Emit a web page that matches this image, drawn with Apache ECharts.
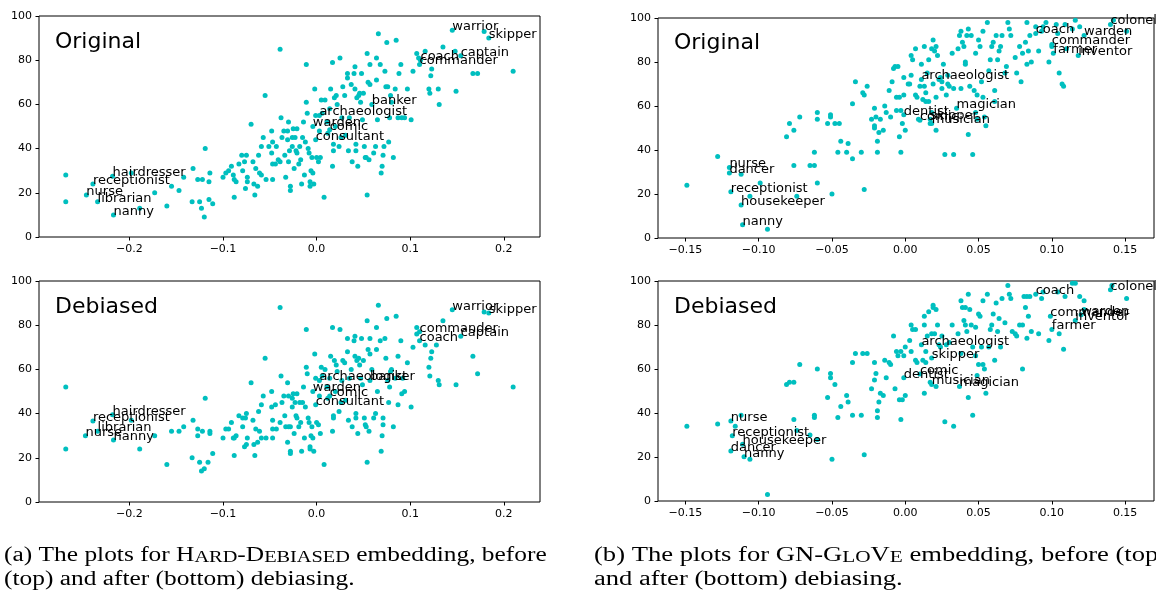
<!DOCTYPE html>
<html><head><meta charset="utf-8">
<script src="https://cdn.jsdelivr.net/npm/echarts@6/dist/echarts.min.js"></script>
<style>html,body{margin:0;padding:0;background:#fff}#c{width:1156px;height:592px}</style>
</head><body><div id="c"></div>
<script>
// ---------- tick labels ----------
const yTicks = [0, 20, 40, 60, 80, 100];
const hdTicks = [-0.2, -0.1, 0.0, 0.1, 0.2];
const gnTicks = [-0.15, -0.10, -0.05, 0.00, 0.05, 0.10, 0.15];
const panelTitles = ['Original', 'Original', 'Debiased', 'Debiased'];

// ---------- (a) HARD-DEBIASED, original ----------
const hdOrigPts = [[-0.268,28],[-0.268,16],[-0.189,13],[-0.198,29],[-0.173,20],[-0.160,14],[-0.155,23],[-0.147,21],[-0.142,27],[-0.132,31],[-0.133,16],[-0.127,26],[-0.125,16],[-0.123,13],[-0.122,26],[-0.120,9],[-0.119,40],[-0.115,25],[-0.115,17],[-0.114,29],[-0.111,15],[-0.100,27],[-0.097,29],[-0.094,30],[-0.091,32],[-0.089,28],[-0.088,26],[-0.088,18],[-0.086,25],[-0.083,33],[-0.080,37],[-0.079,30],[-0.077,34],[-0.076,22],[-0.075,37],[-0.074,25],[-0.074,27],[-0.070,51],[-0.068,34],[-0.067,24],[-0.066,19],[-0.065,31],[-0.063,23],[-0.062,37],[-0.061,29],[-0.059,28],[-0.059,41],[-0.057,45],[-0.055,64],[-0.054,26],[-0.051,41],[-0.048,48],[-0.048,38],[-0.047,43],[-0.047,33],[-0.047,26],[-0.044,33],[-0.043,41],[-0.041,35],[-0.039,85],[-0.039,34],[-0.038,54],[-0.037,45],[-0.035,48],[-0.034,37],[-0.033,27],[-0.031,44],[-0.031,48],[-0.030,52],[-0.030,34],[-0.029,39],[-0.028,23],[-0.028,21],[-0.026,45],[-0.026,41],[-0.025,49],[-0.024,31],[-0.023,45],[-0.022,39],[-0.021,38],[-0.021,49],[-0.019,33],[-0.018,41],[-0.017,35],[-0.016,24],[-0.015,45],[-0.014,52],[-0.013,28],[-0.012,43],[-0.011,78],[-0.011,61],[-0.010,56],[-0.009,40],[-0.008,38],[-0.007,23],[-0.007,25],[-0.006,30],[-0.005,36],[-0.004,29],[-0.003,24],[-0.002,67],[-0.001,55],[0.000,36],[0.002,34],[0.003,48],[0.004,36],[0.005,62],[0.006,56],[0.008,18],[0.009,62],[0.011,52],[0.012,47],[0.014,58],[0.015,67],[0.017,79],[0.017,32],[0.018,39],[0.018,42],[0.019,63],[0.020,50],[0.021,64],[0.022,60],[0.024,41],[0.025,81],[0.026,45],[0.027,54],[0.028,68],[0.030,64],[0.031,46],[0.033,74],[0.033,72],[0.034,39],[0.035,54],[0.037,69],[0.038,34],[0.040,74],[0.041,77],[0.041,67],[0.042,42],[0.042,39],[0.043,63],[0.044,32],[0.045,64],[0.046,65],[0.047,61],[0.048,74],[0.049,53],[0.050,65],[0.051,41],[0.052,36],[0.053,36],[0.054,83],[0.054,19],[0.055,70],[0.056,35],[0.057,69],[0.057,78],[0.061,38],[0.063,41],[0.064,71],[0.064,81],[0.065,53],[0.066,92],[0.068,78],[0.069,29],[0.070,32],[0.071,37],[0.072,41],[0.073,75],[0.074,68],[0.075,88],[0.076,68],[0.077,43],[0.078,54],[0.079,64],[0.080,61],[0.082,36],[0.084,67],[0.085,89],[0.087,54],[0.088,74],[0.090,78],[0.091,54],[0.094,54],[0.097,67],[0.101,53],[0.103,75],[0.107,83],[0.109,81],[0.116,84],[0.120,67],[0.121,65],[0.122,73],[0.123,76],[0.130,67],[0.131,60],[0.135,86],[0.148,84],[0.149,66],[0.167,74],[0.172,74],[0.179,93],[0.210,75]];
const hdOrigWords = ['warrior','skipper','captain','coach','commander','banker','archaeologist','warden','comic','consultant','hairdresser','receptionist','nurse','librarian','nanny'];
const hdOrigWordPos = [[0.145,93.5],[0.184,90],[0.154,82],[0.111,80],[0.110,78],[0.059,60],[0.003,55],[-0.004,50],[0.014,48.5],[-0.001,44],[-0.218,27.5],[-0.239,24],[-0.246,19],[-0.234,16],[-0.217,10]];

// ---------- (a) HARD-DEBIASED, debiased ----------
const hdDebPts = [[-0.268,52],[-0.268,24],[-0.198,37],[-0.189,24],[-0.173,30],[-0.160,17],[-0.155,32],[-0.147,32],[-0.142,34],[-0.132,37],[-0.133,20],[-0.127,33],[-0.127,30],[-0.125,18],[-0.123,14],[-0.122,32],[-0.120,15],[-0.119,47],[-0.116,18],[-0.114,32],[-0.114,31],[-0.111,22],[-0.100,29],[-0.097,33],[-0.094,33],[-0.091,36],[-0.089,29],[-0.088,21],[-0.088,29],[-0.086,30],[-0.083,39],[-0.079,38],[-0.079,34],[-0.077,25],[-0.076,38],[-0.075,40],[-0.075,26],[-0.074,29],[-0.070,54],[-0.068,37],[-0.067,26],[-0.066,21],[-0.065,33],[-0.063,27],[-0.062,41],[-0.061,32],[-0.059,29],[-0.059,44],[-0.057,48],[-0.055,65],[-0.054,29],[-0.048,50],[-0.048,43],[-0.047,37],[-0.047,33],[-0.047,29],[-0.044,44],[-0.043,33],[-0.039,88],[-0.039,36],[-0.038,57],[-0.037,45],[-0.035,48],[-0.034,39],[-0.033,34],[-0.031,27],[-0.031,54],[-0.030,48],[-0.030,34],[-0.028,34],[-0.028,23],[-0.028,22],[-0.026,47],[-0.026,43],[-0.025,49],[-0.024,31],[-0.023,45],[-0.022,39],[-0.021,38],[-0.021,49],[-0.019,34],[-0.018,45],[-0.017,36],[-0.016,23],[-0.015,45],[-0.014,52],[-0.013,29],[-0.012,43],[-0.011,78],[-0.011,61],[-0.010,58],[-0.009,38],[-0.008,36],[-0.007,25],[-0.007,24],[-0.006,30],[-0.005,34],[-0.004,29],[-0.003,23],[-0.002,67],[-0.001,56],[0.000,36],[0.002,35],[0.003,48],[0.004,31],[0.005,61],[0.006,57],[0.008,17],[0.009,60],[0.011,52],[0.012,47],[0.014,56],[0.015,66],[0.017,79],[0.017,32],[0.018,39],[0.018,38],[0.019,64],[0.020,50],[0.021,62],[0.022,59],[0.024,41],[0.025,78],[0.026,45],[0.027,55],[0.028,64],[0.030,63],[0.031,46],[0.033,74],[0.033,68],[0.034,37],[0.035,56],[0.037,60],[0.038,34],[0.040,73],[0.041,75],[0.041,66],[0.042,40],[0.042,38],[0.043,64],[0.044,31],[0.045,65],[0.046,62],[0.047,56],[0.048,74],[0.049,53],[0.050,64],[0.051,38],[0.052,35],[0.053,34],[0.054,82],[0.054,18],[0.055,69],[0.056,32],[0.057,67],[0.057,74],[0.059,60],[0.061,38],[0.063,40],[0.064,69],[0.064,79],[0.065,50],[0.066,89],[0.068,73],[0.069,23],[0.070,30],[0.071,35],[0.071,38],[0.073,74],[0.074,65],[0.075,83],[0.076,55],[0.077,45],[0.078,52],[0.079,59],[0.080,60],[0.082,34],[0.084,56],[0.085,84],[0.087,66],[0.087,44],[0.090,73],[0.091,49],[0.092,56],[0.094,50],[0.097,63],[0.101,43],[0.103,70],[0.107,79],[0.107,76],[0.116,71],[0.120,61],[0.121,57],[0.122,65],[0.123,68],[0.128,71],[0.130,55],[0.131,53],[0.135,82],[0.149,53],[0.167,66],[0.172,58],[0.179,86],[0.210,52]];
const hdDebWords = ['warrior','skipper','commander','captain','coach','archaeologist','banker','warden','comic','consultant','hairdresser','receptionist','librarian','nurse','nanny'];
const hdDebWordPos = [[0.145,87],[0.184,85.5],[0.110,77],[0.154,75],[0.110,73],[0.003,55],[0.057,55],[-0.004,50],[0.014,48],[-0.001,44],[-0.218,39.5],[-0.239,36.7],[-0.234,32],[-0.247,30],[-0.217,28]];

// ---------- (b) GN-GloVe, original ----------
const gnOrigPts = [[-0.149,24],[-0.128,37],[-0.112,29],[-0.106,19],[-0.099,25],[-0.094,4],[-0.081,46],[-0.079,52],[-0.076,49],[-0.076,33],[-0.074,19],[-0.072,55],[-0.065,33],[-0.062,33],[-0.062,39],[-0.060,57],[-0.060,54],[-0.060,25],[-0.053,52],[-0.051,55],[-0.051,56],[-0.050,20],[-0.048,52],[-0.046,39],[-0.045,52],[-0.044,44],[-0.040,39],[-0.039,43],[-0.036,61],[-0.036,36],[-0.034,71],[-0.030,39],[-0.029,66],[-0.028,65],[-0.028,22],[-0.026,69],[-0.023,54],[-0.021,59],[-0.021,51],[-0.021,50],[-0.020,55],[-0.019,39],[-0.019,44],[-0.018,48],[-0.017,54],[-0.015,49],[-0.014,60],[-0.013,57],[-0.011,67],[-0.010,55],[-0.009,71],[-0.008,77],[-0.007,78],[-0.006,64],[-0.006,58],[-0.005,78],[-0.004,64],[-0.004,46],[-0.003,58],[-0.003,39],[-0.002,52],[-0.001,65],[-0.001,73],[0.000,49],[0.002,70],[0.003,70],[0.004,83],[0.005,81],[0.004,74],[0.007,86],[0.007,65],[0.008,64],[0.009,54],[0.010,69],[0.011,79],[0.012,63],[0.013,87],[0.013,69],[0.014,62],[0.014,66],[0.015,75],[0.016,81],[0.016,62],[0.017,52],[0.018,86],[0.018,57],[0.019,90],[0.019,70],[0.020,85],[0.021,64],[0.021,49],[0.021,87],[0.022,83],[0.023,72],[0.024,73],[0.025,71],[0.025,68],[0.026,79],[0.027,38],[0.028,65],[0.029,74],[0.029,70],[0.030,69],[0.032,84],[0.033,68],[0.033,38],[0.036,86],[0.037,92],[0.038,68],[0.038,94],[0.039,89],[0.040,87],[0.041,80],[0.041,79],[0.042,92],[0.043,47],[0.043,95],[0.044,69],[0.045,92],[0.046,38],[0.047,67],[0.048,57],[0.048,84],[0.049,54],[0.049,65],[0.050,90],[0.051,87],[0.052,71],[0.053,94],[0.053,64],[0.054,55],[0.055,51],[0.056,98],[0.057,76],[0.058,81],[0.059,87],[0.060,89],[0.061,67],[0.061,62],[0.062,92],[0.063,81],[0.064,85],[0.065,87],[0.066,92],[0.068,75],[0.069,78],[0.070,98],[0.071,95],[0.072,92],[0.075,82],[0.076,75],[0.078,87],[0.079,71],[0.080,84],[0.082,89],[0.083,79],[0.083,98],[0.084,85],[0.085,92],[0.086,80],[0.089,96],[0.091,85],[0.093,94],[0.094,96],[0.096,98],[0.098,80],[0.100,87],[0.103,97],[0.104,93],[0.105,75],[0.107,70],[0.108,69],[0.109,97],[0.110,86],[0.114,95],[0.116,99],[0.119,96],[0.142,99],[0.151,94]];
const gnOrigWords = ['nurse','dancer','receptionist','housekeeper','nanny','colonel','coach','warden','commander','farmer','inventor','archaeologist','magician','dentist','comic','skipper','musician'];
const gnOrigWordPos = [[-0.120,32],[-0.120,29.5],[-0.119,21],[-0.112,15],[-0.111,6],[0.140,97],[0.089,93],[0.122,92],[0.100,88],[0.101,84],[0.118,83],[0.011,72],[0.035,59],[-0.001,56],[0.010,53.5],[0.017,54],[0.018,52]];

// ---------- (b) GN-GloVe, debiased ----------
const gnDebPts = [[-0.149,34],[-0.128,35],[-0.116,34],[-0.112,39],[-0.106,19],[-0.094,3],[-0.081,53],[-0.079,54],[-0.076,54],[-0.076,37],[-0.072,62],[-0.074,32],[-0.065,30],[-0.062,39],[-0.062,38],[-0.060,60],[-0.060,28],[-0.051,58],[-0.051,56],[-0.050,19],[-0.048,53],[-0.053,47],[-0.046,38],[-0.044,43],[-0.040,48],[-0.039,45],[-0.036,63],[-0.036,39],[-0.034,67],[-0.030,39],[-0.029,67],[-0.028,21],[-0.026,67],[-0.023,51],[-0.021,63],[-0.021,55],[-0.020,58],[-0.019,41],[-0.019,38],[-0.018,45],[-0.017,49],[-0.015,48],[-0.014,64],[-0.013,56],[-0.011,63],[-0.010,62],[-0.008,75],[-0.007,51],[-0.006,68],[-0.005,66],[-0.004,46],[-0.003,68],[-0.003,37],[-0.002,46],[-0.001,66],[0.000,48],[0.000,70],[0.003,73],[0.004,68],[0.004,80],[0.005,78],[0.007,78],[0.007,64],[0.008,63],[0.012,64],[0.013,84],[0.013,80],[0.014,63],[0.013,49],[0.014,68],[0.015,75],[0.016,86],[0.017,54],[0.018,76],[0.019,89],[0.019,88],[0.020,76],[0.021,52],[0.021,87],[0.022,80],[0.023,71],[0.024,70],[0.025,75],[0.027,36],[0.028,71],[0.030,72],[0.032,80],[0.033,34],[0.036,76],[0.038,91],[0.038,67],[0.039,88],[0.040,82],[0.041,80],[0.041,88],[0.042,77],[0.043,47],[0.043,94],[0.044,87],[0.045,80],[0.046,70],[0.046,39],[0.048,66],[0.048,79],[0.049,57],[0.050,62],[0.050,85],[0.051,84],[0.052,70],[0.053,91],[0.053,62],[0.054,60],[0.055,49],[0.056,94],[0.057,70],[0.058,78],[0.059,80],[0.060,85],[0.061,64],[0.062,90],[0.063,77],[0.064,83],[0.065,70],[0.066,92],[0.068,81],[0.070,98],[0.071,94],[0.072,92],[0.073,77],[0.075,76],[0.076,75],[0.078,80],[0.080,60],[0.080,80],[0.081,93],[0.082,88],[0.083,74],[0.083,93],[0.084,84],[0.085,93],[0.086,77],[0.091,76],[0.093,92],[0.094,95],[0.098,73],[0.104,95],[0.105,76],[0.108,69],[0.109,93],[0.114,99],[0.116,99],[0.119,93],[0.122,91],[0.122,87],[0.141,98],[0.151,92]];
const gnDebWords = ['nurse','receptionist','housekeeper','dancer','nanny','colonel','coach','warden','commander','inventor','farmer','archaeologist','skipper','comic','dentist','musician','magician'];
const gnDebWordPos = [[-0.119,36.4],[-0.118,29.7],[-0.111,25.8],[-0.119,22.7],[-0.110,20.1],[0.140,96],[0.089,94],[0.120,84.7],[0.099,84],[0.116,82],[0.100,78],[0.011,71],[0.018,65],[0.010,57.7],[-0.001,56],[0.018,53],[0.037,52]];

// ---------- build ----------
const CYAN = '#00bfbf';
const FONT = 'DejaVu Sans';
const grids = [
  {left: 39, top: 16, width: 501, height: 221},
  {left: 658, top: 18, width: 496, height: 220},
  {left: 39, top: 281, width: 501, height: 221},
  {left: 658, top: 281, width: 496, height: 220}
].map(g => Object.assign({show: true, borderColor: '#000', borderWidth: 1, backgroundColor: 'transparent'}, g));

const xRanges = [[-0.2966, 0.2387], [-0.1687, 0.1697], [-0.2966, 0.2387], [-0.1687, 0.1697]];
const xTickSets = [hdTicks, gnTicks, hdTicks, gnTicks];
const xDigits = [1, 2, 1, 2];
const fmt = (v, d) => { const s = Math.abs(v).toFixed(d); return (v < -1e-9 ? '\u2212' : '') + s; };

const xAxes = xRanges.map((r, i) => ({
  type: 'value', gridIndex: i, min: r[0], max: r[1], position: 'bottom',
  axisLine: {show: false, onZero: false}, splitLine: {show: false},
  axisTick: {show: true, inside: false, length: 3.5, customValues: xTickSets[i], lineStyle: {color: '#000', width: 1}},
  axisLabel: {show: true, customValues: xTickSets[i], margin: 7, color: '#000', fontSize: 11, fontFamily: FONT,
    formatter: v => fmt(v, xDigits[i])}
}));
const yAxes = [0, 1, 2, 3].map(i => ({
  type: 'value', gridIndex: i, min: 0, max: 100, position: 'left',
  axisLine: {show: false, onZero: false}, splitLine: {show: false},
  axisTick: {show: true, inside: false, length: 3.5, customValues: yTicks, lineStyle: {color: '#000', width: 1}},
  axisLabel: {show: true, customValues: yTicks, margin: 7, color: '#000', fontSize: 11, fontFamily: FONT}
}));

const ptSets = [hdOrigPts, gnOrigPts, hdDebPts, gnDebPts];
const wordSets = [hdOrigWords, gnOrigWords, hdDebWords, gnDebWords];
const wordPosSets = [hdOrigWordPos, gnOrigWordPos, hdDebWordPos, gnDebWordPos];

const series = [];
for (let i = 0; i < 4; i++) {
  series.push({
    type: 'scatter', xAxisIndex: i, yAxisIndex: i, data: ptSets[i],
    symbol: 'circle', symbolSize: 5, itemStyle: {color: CYAN, opacity: 1}, silent: true
  });
  series.push({
    type: 'scatter', xAxisIndex: i, yAxisIndex: i, z: 3,
    data: wordPosSets[i].map((p, k) => [p[0], p[1], wordSets[i][k]]),
    symbol: 'circle', symbolSize: 5, itemStyle: {color: CYAN, opacity: 1}, silent: true,
    label: {show: true, position: 'inside', align: 'left', verticalAlign: 'bottom', offset: [0, 3],
      formatter: p => p.data[2], color: '#000', fontSize: 13, fontFamily: FONT}
  });
}

const titlePos = [[55, 42], [674, 43.5], [55, 307], [674, 307]];
const graphic = titlePos.map((p, i) => ({
  type: 'text', x: p[0], y: p[1], z: 10, silent: true,
  style: {text: panelTitles[i], fill: '#000', fontSize: 22, fontFamily: FONT, align: 'left', verticalAlign: 'middle'}
}));

const capRich = {
  n: {fontSize: 20, fontFamily: 'Liberation Serif', color: '#000', verticalAlign: 'bottom'},
  c: {fontSize: 16, fontFamily: 'Liberation Serif', color: '#000', verticalAlign: 'bottom'}
};
const captions = [
  [4, 566, 1.27, '{n|(a) The plots for H}{c|ARD}{n|-D}{c|EBIASED}{n| embedding, before}'],
  [4, 590, 1.27, '{n|(top) and after (bottom) debiasing.}'],
  [594, 566, 1.33, '{n|(b) The plots for GN-G}{c|LO}{n|V}{c|E}{n| embedding, before (top)}'],
  [594, 590, 1.33, '{n|and after (bottom) debiasing.}']
];
captions.forEach(c => graphic.push({
  type: 'text', x: c[0], y: c[1], scaleX: c[2], silent: true,
  style: {text: c[3], rich: capRich, fill: '#000', fontSize: 20, fontFamily: 'Liberation Serif', align: 'left', verticalAlign: 'bottom'}
}));

const chart = echarts.init(document.getElementById('c'), null, {renderer: 'canvas'});
chart.setOption({
  animation: false, backgroundColor: '#fff',
  grid: grids, xAxis: xAxes, yAxis: yAxes, series: series, graphic: graphic
});
</script></body></html>
